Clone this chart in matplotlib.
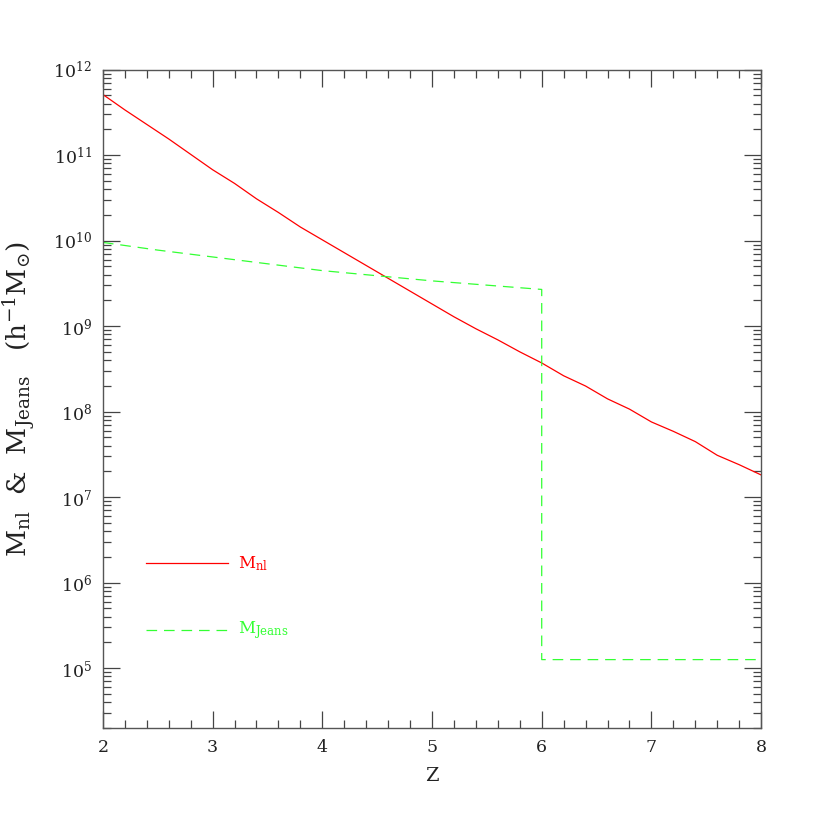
import numpy as np
import matplotlib
matplotlib.use("Agg")
import matplotlib.pyplot as plt
from matplotlib.ticker import LogLocator, MultipleLocator, NullFormatter

plt.rcParams['font.family'] = ['DejaVu Serif']
plt.rcParams['mathtext.fontset'] = 'dejavuserif'

# non-linear mass, log10(M / h^-1 Msun)
z_nl = [2.0, 2.2, 2.4, 2.6, 2.8, 3.0, 3.2, 3.4, 3.6, 3.8, 4.0, 4.2, 4.4, 4.6, 4.8,
        5.0, 5.2, 5.4, 5.6, 5.8, 6.0, 6.2, 6.4, 6.6, 6.8, 7.0, 7.2, 7.4, 7.6, 7.8, 8.0]
logm_nl = [11.71, 11.53, 11.36, 11.19, 11.01, 10.83, 10.67, 10.49, 10.33, 10.16, 10.01,
           9.86, 9.71, 9.56, 9.41, 9.26, 9.11, 8.97, 8.84, 8.70, 8.57, 8.42, 8.30,
           8.15, 8.03, 7.88, 7.77, 7.65, 7.49, 7.38, 7.26]

# Jeans mass (drops at reionization, z = 6)
z_jeans = [2.0, 2.5, 3.0, 3.5, 4.0, 4.5, 5.0, 5.5, 6.0, 6.0, 8.0]
logm_jeans = [9.98, 9.89, 9.81, 9.73, 9.65, 9.59, 9.53, 9.48, 9.43, 5.10, 5.10]

fig = plt.figure(figsize=(8.3, 8.3), dpi=100)
ax = fig.add_axes([0.124, 0.123, 0.793, 0.793])

ax.plot(z_nl, np.power(10.0, logm_nl), color='red', lw=0.9)
jl, = ax.plot(z_jeans, np.power(10.0, logm_jeans), color='#33ff33', lw=0.9, ls='--')
jl.set_dashes([8.5, 5.5])

ax.set_yscale('log')
ax.set_xlim(2, 8)
ax.set_ylim(2e4, 1e12)

ax.xaxis.set_major_locator(MultipleLocator(1))
ax.xaxis.set_minor_locator(MultipleLocator(0.2))
ax.yaxis.set_major_locator(LogLocator(base=10, numticks=20))
ax.yaxis.set_minor_locator(LogLocator(base=10, subs=np.arange(2, 10), numticks=20))
ax.yaxis.set_minor_formatter(NullFormatter())

ax.tick_params(which='both', direction='in', top=True, right=True, colors='#444444',
               labelcolor='#222222', labelsize=12.5, width=0.9)
ax.tick_params(which='major', length=12, pad=8)
ax.tick_params(which='minor', length=6)
for s in ax.spines.values():
    s.set_color('#555555')
    s.set_linewidth(1.0)

ax.set_xlabel('Z', fontsize=14, color='#222222', labelpad=8)
ax.set_ylabel(r'M$_{\rm nl}$  &  M$_{\rm Jeans}$   (h$^{-1}$M$_{\odot}$)',
              fontsize=19, color='#222222')
ax.yaxis.set_label_coords(-0.098, 0.5)

# legend drawn by hand
ax.plot([0.065, 0.19], [0.25, 0.25], transform=ax.transAxes, color='red', lw=0.9)
ax.text(0.205, 0.25, r'M$_{\rm nl}$', transform=ax.transAxes, color='red',
        fontsize=12, va='center')
lg, = ax.plot([0.065, 0.19], [0.148, 0.148], transform=ax.transAxes,
              color='#33ff33', lw=0.9, ls='--')
lg.set_dashes([8.5, 5.5])
ax.text(0.205, 0.148, r'M$_{\rm Jeans}$', transform=ax.transAxes,
        color='#33ff33', fontsize=12, va='center')

fig.savefig('out.png', dpi=100)
